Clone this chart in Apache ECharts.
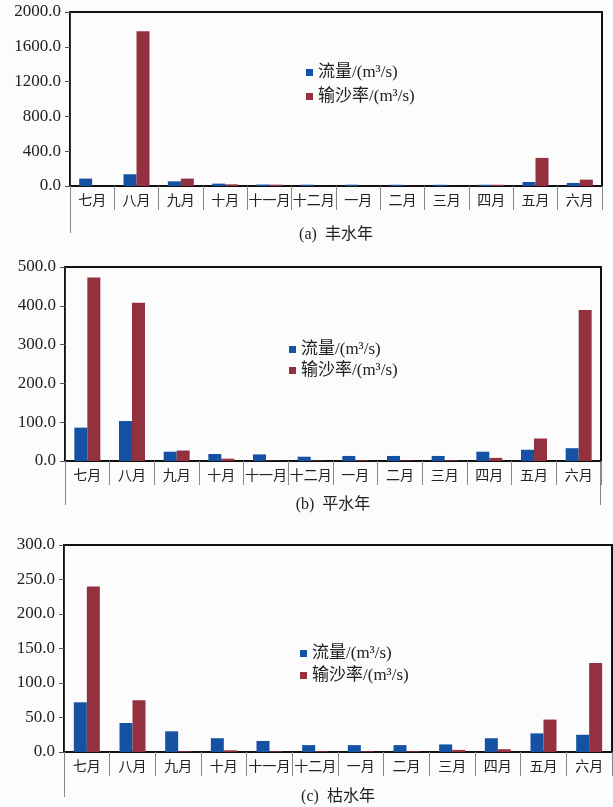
<!DOCTYPE html>
<html>
<head>
<meta charset="utf-8">
<script src="https://cdn.jsdelivr.net/npm/echarts@6/dist/echarts.min.js"></script>
<style>
  html, body { margin: 0; padding: 0; background: #fcfcfc; }
  #chart { width: 613px; height: 807px; }
</style>
</head>
<body>
<div id="chart"></div>
<script>
// Monthly discharge and sediment transport rate for wet, normal and dry years
const months = ['七月', '八月', '九月', '十月', '十一月', '十二月', '一月', '二月', '三月', '四月', '五月', '六月'];
const seriesNames = ['流量/(m³/s)', '输沙率/(m³/s)'];
const panelTitles = ['(a)  丰水年', '(b)  平水年', '(c)  枯水年'];

const flowWet   = [85, 135, 54, 27, 17, 15, 15, 14, 14, 14, 46, 35];
const sedWet    = [0, 1780, 85, 19, 15, 1, 1, 1, 1, 14, 323, 73];
const flowNormal = [86, 103, 24, 18, 17, 11, 13, 13, 13, 24, 29, 33];
const sedNormal  = [473, 408, 27, 6, 1, 1, 2, 1, 2, 8, 58, 389];
const flowDry   = [72, 42, 30, 20, 16, 10, 10, 10, 11, 20, 27, 25];
const sedDry    = [240, 75, 1, 2.5, 1, 1, 1, 1, 3, 4, 47, 129];

const yMax = [2000, 500, 300];
const yStep = [400, 100, 50];

const flows = [flowWet, flowNormal, flowDry];
const seds = [sedWet, sedNormal, sedDry];

// Panel layout (pixels)
const panels = [
  { left: 70, right: 602, top: 12,  bottom: 186, ext: 233, titleY: 235, legX: 301, legY: 59, legGap: 7, rightExt: false },
  { left: 65, right: 601, top: 267, bottom: 461, ext: 505, titleY: 505, legX: 284, legY: 336, legGap: 4, rightExt: true },
  { left: 64, right: 612, top: 545, bottom: 752, ext: 797, titleY: 797, legX: 295, legY: 640, legGap: 5, rightExt: false }
];

const BLUE = '#1652a4';
const RED = '#93323e';
const FONT = "'Liberation Serif', 'Noto Sans CJK SC', serif";

const grid = [], xAxis = [], yAxis = [], series = [], legend = [], graphic = [];

panels.forEach((p, i) => {
  grid.push({
    left: p.left, width: p.right - p.left, top: p.top, height: p.bottom - p.top,
    show: true, borderColor: '#111', borderWidth: 2, backgroundColor: 'transparent',
    containLabel: false
  });
  xAxis.push({
    type: 'category', gridIndex: i, data: months,
    axisLine: { show: true, lineStyle: { color: '#111', width: 2 } },
    axisTick: { show: true, length: 24, lineStyle: { color: '#888', width: 1 } },
    axisLabel: { margin: 8, fontFamily: FONT, fontSize: 14, color: '#222', interval: 0 },
    splitLine: { show: false }
  });
  yAxis.push({
    type: 'value', gridIndex: i, min: 0, max: yMax[i], interval: yStep[i],
    axisLine: { show: true, lineStyle: { color: '#333', width: 1 } },
    axisTick: { show: true, length: 5, lineStyle: { color: '#555' } },
    axisLabel: { margin: 9, fontFamily: FONT, fontSize: 17, color: '#222',
                 formatter: v => v.toFixed(1) },
    splitLine: { show: false }
  });
  series.push({
    name: seriesNames[0], type: 'bar', xAxisIndex: i, yAxisIndex: i,
    data: flows[i], barWidth: 13, barGap: '0%',
    itemStyle: { color: BLUE }
  });
  series.push({
    name: seriesNames[1], type: 'bar', xAxisIndex: i, yAxisIndex: i,
    data: seds[i], barWidth: 13, barGap: '0%',
    itemStyle: { color: RED }
  });
  legend.push({
    orient: 'vertical', left: p.legX, top: p.legY, itemGap: p.legGap,
    itemWidth: 7, itemHeight: 7, icon: 'rect',
    data: seriesNames,
    textStyle: { fontFamily: FONT, fontSize: 17, color: '#222' }
  });
  // Outer lines of the grouped category axis
  graphic.push({
    type: 'line', silent: true,
    shape: { x1: p.left + 0.5, y1: p.bottom, x2: p.left + 0.5, y2: p.ext },
    style: { stroke: '#888', lineWidth: 1 }
  });
  if (p.rightExt) {
    graphic.push({
      type: 'line', silent: true,
      shape: { x1: p.right - 0.5, y1: p.bottom, x2: p.right - 0.5, y2: p.ext },
      style: { stroke: '#888', lineWidth: 1 }
    });
  }
  graphic.push({
    type: 'text', silent: true,
    x: (p.left + p.right) / 2, y: p.titleY,
    style: { text: panelTitles[i], fontFamily: FONT, fontSize: 16, fill: '#222',
             textAlign: 'center', textVerticalAlign: 'middle' }
  });
});

const chart = echarts.init(document.getElementById('chart'), null, { renderer: 'canvas' });
chart.setOption({
  animation: false,
  backgroundColor: '#fcfcfc',
  grid, xAxis, yAxis, series, legend, graphic
});
</script>
</body>
</html>
